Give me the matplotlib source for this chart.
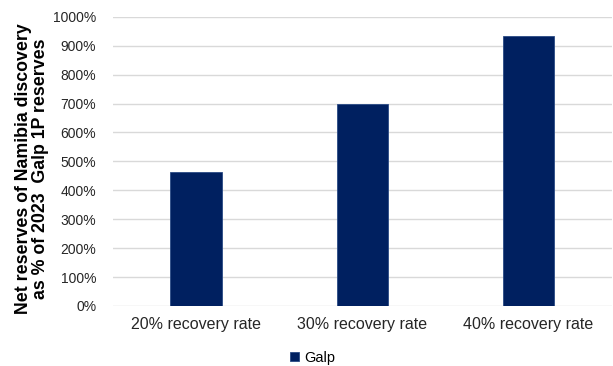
import matplotlib.pyplot as plt
from matplotlib.ticker import FuncFormatter

categories = ['20% recovery rate', '30% recovery rate', '40% recovery rate']
galp = [464, 700, 934]

plt.rcParams['font.family'] = ['Liberation Sans', 'DejaVu Sans']

fig = plt.figure(figsize=(6.13, 3.66), dpi=100)
ax = fig.add_axes([0.184, 0.164, 0.814, 0.79])

x = range(len(categories))
ax.bar(x, galp, width=0.31, color='#002060', edgecolor='#2a4a85', linewidth=0.6,
       label='Galp', zorder=3)

ax.set_xlim(-0.5, 2.5)
ax.set_ylim(0, 1000)
ax.set_yticks(range(0, 1001, 100))
ax.yaxis.set_major_formatter(FuncFormatter(lambda v, p: f'{int(v)}%'))
ax.set_xticks(list(x))
ax.set_xticklabels(categories)
ax.grid(axis='y', color='#d9d9d9', linewidth=1, zorder=0)
for s in ['top', 'right', 'left', 'bottom']:
    ax.spines[s].set_visible(False)
ax.tick_params(axis='y', length=0, pad=12, labelsize=10, labelcolor='#262626')
ax.tick_params(axis='x', length=0, pad=8, labelsize=11.5, labelcolor='#262626')

fig.text(0.052, 0.538, 'Net reserves of Namibia discovery\nas % of 2023  Galp 1P reserves',
         rotation=90, ha='center', va='center', fontsize=12.8, fontweight='bold',
         multialignment='center', linespacing=1.0)

fig.legend(loc='center', bbox_to_anchor=(0.51, 0.022), frameon=False, fontsize=10.5,
           handlelength=0.6, handleheight=0.6, handletextpad=0.4)

fig.savefig('out.png', dpi=100)
